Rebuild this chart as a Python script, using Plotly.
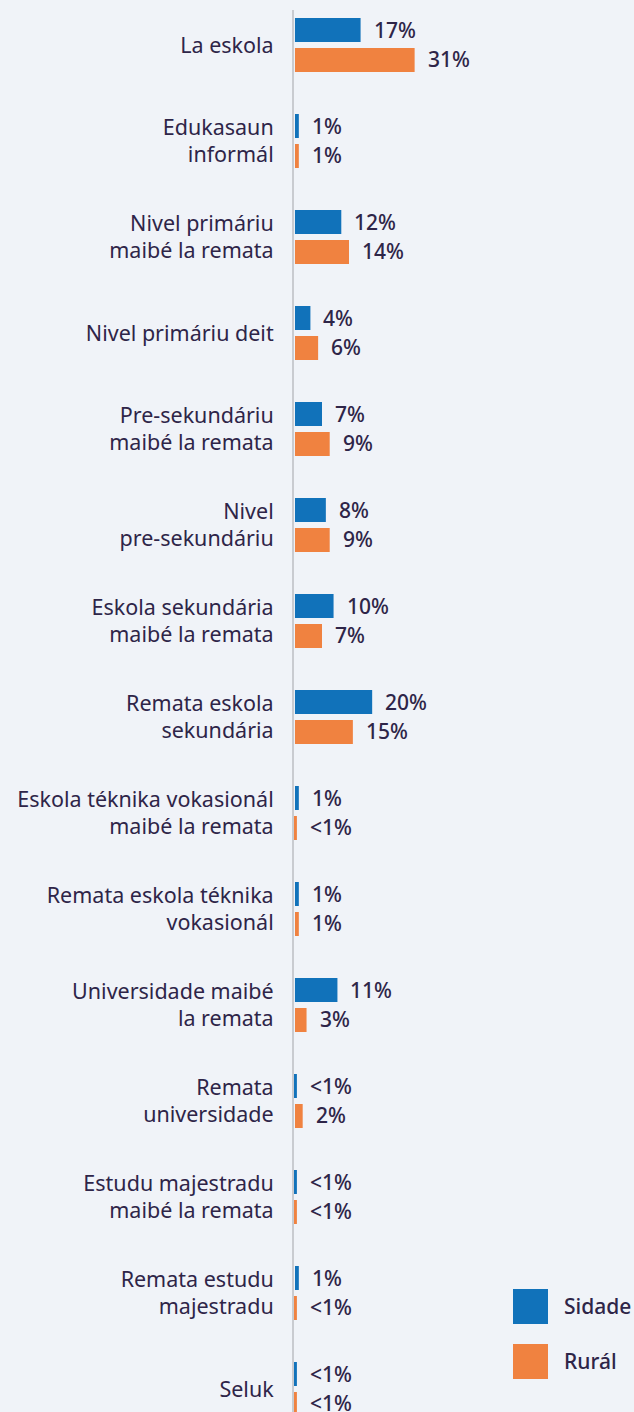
import plotly.graph_objects as go

# ── Data ──────────────────────────────────────────────────────────────────────
categories = [
    "La eskola",
    "Edukasaun<br>informál",
    "Nivel primáriu<br>maibé la remata",
    "Nivel primáriu deit",
    "Pre-sekundáriu<br>maibé la remata",
    "Nivel<br>pre-sekundáriu",
    "Eskola sekundária<br>maibé la remata",
    "Remata eskola<br>sekundária",
    "Eskola téknika vokasionál<br>maibé la remata",
    "Remata eskola téknika<br>vokasionál",
    "Universidade maibé<br>la remata",
    "Remata<br>universidade",
    "Estudu majestradu<br>maibé la remata",
    "Remata estudu<br>majestradu",
    "Seluk",
]
# bar lengths (%); "<1%" shown as a sliver of 0.5
sidade_values = [17, 1, 12, 4, 7, 8, 10, 20, 1, 1, 11, 0.5, 0.5, 1, 0.5]
rural_values = [31, 1, 14, 6, 9, 9, 7, 15, 0.5, 1, 3, 2, 0.5, 0.5, 0.5]
sidade_labels = ["17%", "1%", "12%", "4%", "7%", "8%", "10%", "20%", "1%", "1%",
                 "11%", "<1%", "<1%", "1%", "<1%"]
rural_labels = ["31%", "1%", "14%", "6%", "9%", "9%", "7%", "15%", "<1%", "1%",
                "3%", "2%", "<1%", "<1%", "<1%"]

series_names = ["Sidade", "Rurál"]

# ── Style ─────────────────────────────────────────────────────────────────────
BLUE = "#1172BA"
ORANGE = "#F08240"
BG = "#F0F3F8"
TEXT = "#2E2548"
AXIS = "#C9CBD0"
FONT = "Noto Sans, Arial, sans-serif"
CAT_SIZE = 21.5
VAL_SIZE = 21

W, H = 634, 1412
M_L, M_T = 294, 10
FIRST_PX = 45          # pixel centre of the first group
GROUP_PX = 96.0
PX_PER_PCT = 3.86
BAR_PX = 24


def px_x(px):
    return (px - M_L) / (W - M_L)


def px_y(py):
    return 1 - (py - M_T) / (H - M_T)


width = BAR_PX / GROUP_PX
n = len(categories)

fig = go.Figure()
fig.add_trace(go.Bar(
    y=categories, x=sidade_values, orientation="h", name=series_names[0],
    marker=dict(color=BLUE, line_width=0), width=width, offset=-27 / GROUP_PX,
    hoverinfo="skip",
))
fig.add_trace(go.Bar(
    y=categories, x=rural_values, orientation="h", name=series_names[1],
    marker=dict(color=ORANGE, line_width=0), width=width, offset=3 / GROUP_PX,
    hoverinfo="skip",
))

val_font = dict(size=VAL_SIZE, color=TEXT, family=FONT, weight=500)
annotations = []
for cat, v, lab in zip(categories, sidade_values, sidade_labels):
    annotations.append(dict(x=v, y=cat, xref="x", yref="y", text=lab, showarrow=False,
                            xanchor="left", yanchor="middle", xshift=11, yshift=15,
                            font=val_font))
for cat, v, lab in zip(categories, rural_values, rural_labels):
    annotations.append(dict(x=v, y=cat, xref="x", yref="y", text=lab, showarrow=False,
                            xanchor="left", yanchor="middle", xshift=11, yshift=-14,
                            font=val_font))

# Legend drawn as squares + labels
shapes = []
for name, color, top in [(series_names[0], BLUE, 1289), (series_names[1], ORANGE, 1344)]:
    shapes.append(dict(type="rect", xref="paper", yref="paper",
                       x0=px_x(513), x1=px_x(548), y0=px_y(top + 35), y1=px_y(top),
                       fillcolor=color, line_width=0))
    annotations.append(dict(x=px_x(562), y=px_y(top + 17), xref="paper", yref="paper",
                            text=name, showarrow=False, xanchor="left", yanchor="middle",
                            font=val_font))

fig.update_layout(
    width=W, height=H,
    paper_bgcolor=BG, plot_bgcolor=BG,
    margin=dict(l=M_L, r=0, t=M_T, b=0),
    barmode="overlay",
    showlegend=False,
    font=dict(family=FONT, color=TEXT, size=CAT_SIZE),
    xaxis=dict(range=[-0.25, (W - M_L) / PX_PER_PCT - 0.25], visible=False, fixedrange=True),
    yaxis=dict(
        type="category",
        range=[(n - 1) + (H - FIRST_PX - (n - 1) * GROUP_PX) / GROUP_PX,
               -(FIRST_PX - M_T) / GROUP_PX],
        showline=True, linecolor=AXIS, linewidth=2,
        showgrid=False, zeroline=False, ticks="",
        ticklabelstandoff=14,
        tickfont=dict(size=CAT_SIZE, color=TEXT, family=FONT),
    ),
    annotations=annotations,
    shapes=shapes,
)

# page body has a default 8px margin; drop it so the figure fills the window
fig.write_html("out.html", config={"displayModeBar": False},
               post_script="document.body.style.margin='0';"
                           "document.body.style.overflow='hidden';")
